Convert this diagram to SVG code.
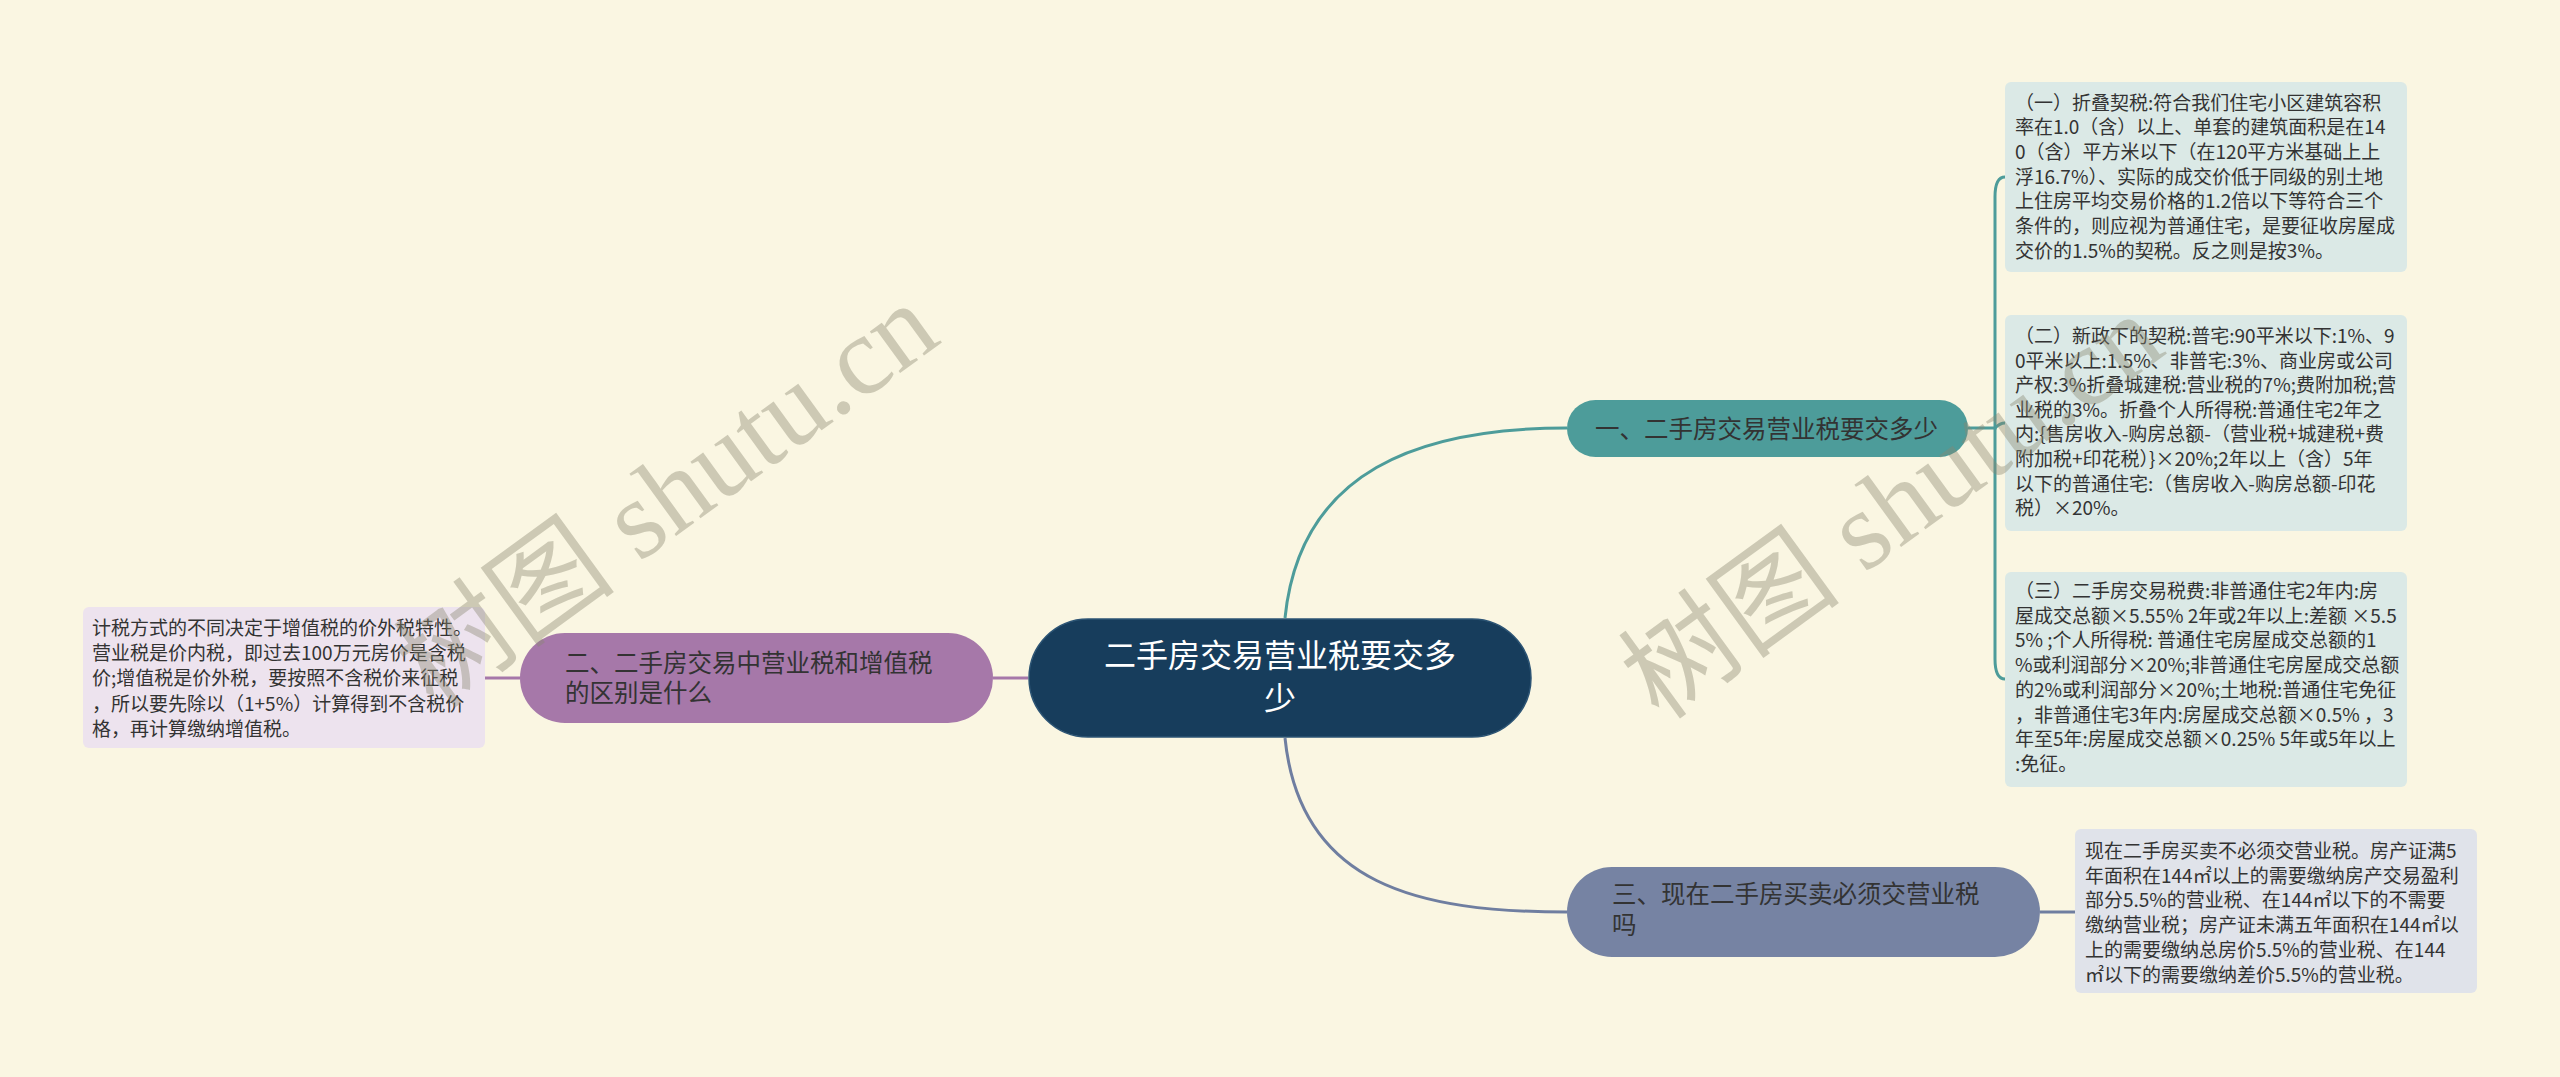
<svg xmlns="http://www.w3.org/2000/svg" width="2560" height="1077" viewBox="0 0 2560 1077">
<style>
.t{font-family:"Noto Sans CJK SC","Noto Sans",sans-serif;fill:#333333}
.leaf{font-size:19px}
.br{font-size:24.5px}
.root{font-size:32px;fill:#ffffff}
.wm{font-family:"Liberation Serif","Noto Sans CJK SC",serif;font-size:112px;fill:#8a8670;fill-opacity:0.4}
.c{fill:none;stroke-width:3}
</style>
<rect width="2560" height="1077" fill="#faf6e2"/>
<g id="connectors">
<path class="c" stroke="#4d9c9a" d="M1285,618 C1300,470 1420,428 1567,428"/>
<path class="c" stroke="#6f7ea0" d="M1285,738 C1300,886 1420,912 1567,912"/>
<path class="c" stroke="#a678a9" d="M993,678 H1028"/>
<path class="c" stroke="#a678a9" d="M485,678 H520"/>
<path class="c" stroke="#4d9c9a" d="M1968,428 H1995 V197 Q1995,177 2005,177"/>
<path class="c" stroke="#4d9c9a" d="M1995,428 V659 Q1995,679 2005,679"/>
<path class="c" stroke="#4d9c9a" d="M1995,428 Q2000,423 2005,423"/>
<path class="c" stroke="#6f7ea0" d="M2040,912 H2075"/>
</g>
<g id="root">
<rect x="1029" y="619" width="502" height="118" rx="59" fill="#173d5c" stroke="#2c5474" stroke-width="1.5"/>
<text class="t root" text-anchor="middle" x="1280"><tspan x="1280" y="667">二手房交易营业税要交多</tspan><tspan x="1280" y="710">少</tspan></text>
</g>
<g id="branch1">
<rect x="1567" y="400" width="401" height="57" rx="28.5" fill="#4d9c9a"/>
<text class="t br" x="1595" y="438">一、二手房交易营业税要交多少</text>
</g>
<g id="branch2">
<rect x="520" y="633" width="473" height="90" rx="45" fill="#a678a9"/>
<text class="t br"><tspan x="565" y="672">二、二手房交易中营业税和增值税</tspan><tspan x="565" y="702">的区别是什么</tspan></text>
</g>
<g id="branch3">
<rect x="1567" y="867" width="473" height="90" rx="45" fill="#7683a3"/>
<text class="t br"><tspan x="1612" y="903">三、现在二手房买卖必须交营业税</tspan><tspan x="1612" y="934">吗</tspan></text>
</g>
<g id="leaf1">
<rect x="2005" y="82" width="402" height="190" rx="6" fill="#dbe9e6"/>
<text class="t leaf"><tspan x="2015" y="109.5">（一）折叠契税:符合我们住宅小区建筑容积</tspan><tspan x="2015" y="134.2">率在1.0（含）以上、单套的建筑面积是在14</tspan><tspan x="2015" y="158.9">0（含）平方米以下（在120平方米基础上上</tspan><tspan x="2015" y="183.6">浮16.7%）、实际的成交价低于同级的别土地</tspan><tspan x="2015" y="208.3">上住房平均交易价格的1.2倍以下等符合三个</tspan><tspan x="2015" y="233">条件的，则应视为普通住宅，是要征收房屋成</tspan><tspan x="2015" y="257.7">交价的1.5%的契税。反之则是按3%。</tspan></text>
</g>
<g id="leaf2">
<rect x="2005" y="315" width="402" height="216" rx="6" fill="#dbe9e6"/>
<text class="t leaf"><tspan x="2015" y="343">（二）新政下的契税:普宅:90平米以下:1%、9</tspan><tspan x="2015" y="367.6">0平米以上:1.5%、非普宅:3%、商业房或公司</tspan><tspan x="2015" y="392.2">产权:3%折叠城建税:营业税的7%;费附加税;营</tspan><tspan x="2015" y="416.8">业税的3%。折叠个人所得税:普通住宅2年之</tspan><tspan x="2015" y="441.4">内:{售房收入-购房总额-（营业税+城建税+费</tspan><tspan x="2015" y="466">附加税+印花税）}×20%;2年以上（含）5年</tspan><tspan x="2015" y="490.6">以下的普通住宅:（售房收入-购房总额-印花</tspan><tspan x="2015" y="515.2">税）×20%。</tspan></text>
</g>
<g id="leaf3">
<rect x="2005" y="572" width="402" height="215" rx="6" fill="#dbe9e6"/>
<text class="t leaf"><tspan x="2015" y="598">（三）二手房交易税费:非普通住宅2年内:房</tspan><tspan x="2015" y="622.7">屋成交总额×5.55% 2年或2年以上:差额 ×5.5</tspan><tspan x="2015" y="647.4">5% ;个人所得税: 普通住宅房屋成交总额的1</tspan><tspan x="2015" y="672.1">%或利润部分×20%;非普通住宅房屋成交总额</tspan><tspan x="2015" y="696.8">的2%或利润部分×20%;土地税:普通住宅免征</tspan><tspan x="2015" y="721.5">，非普通住宅3年内:房屋成交总额×0.5% ，3</tspan><tspan x="2015" y="746.2">年至5年:房屋成交总额×0.25% 5年或5年以上</tspan><tspan x="2015" y="770.9">:免征。</tspan></text>
</g>
<g id="leaf4">
<rect x="2075" y="829" width="402" height="164" rx="6" fill="#e0e3ea"/>
<text class="t leaf"><tspan x="2085" y="858">现在二手房买卖不必须交营业税。房产证满5</tspan><tspan x="2085" y="882.7">年面积在144㎡以上的需要缴纳房产交易盈利</tspan><tspan x="2085" y="907.4">部分5.5%的营业税、在144㎡以下的不需要</tspan><tspan x="2085" y="932.1">缴纳营业税；房产证未满五年面积在144㎡以</tspan><tspan x="2085" y="956.8">上的需要缴纳总房价5.5%的营业税、在144</tspan><tspan x="2085" y="981.5">㎡以下的需要缴纳差价5.5%的营业税。</tspan></text>
</g>
<g id="leaf5">
<rect x="83" y="607" width="402" height="141" rx="6" fill="#ede3ee"/>
<text class="t leaf"><tspan x="92" y="635">计税方式的不同决定于增值税的价外税特性。</tspan><tspan x="92" y="660.2">营业税是价内税，即过去100万元房价是含税</tspan><tspan x="92" y="685.4">价;增值税是价外税，要按照不含税价来征税</tspan><tspan x="92" y="710.6">，所以要先除以（1+5%）计算得到不含税价</tspan><tspan x="92" y="735.8">格，再计算缴纳增值税。</tspan></text>
</g>
<g id="watermark">
<text class="wm" transform="translate(435,711) rotate(-36)">树图 shutu.cn</text>
<text class="wm" transform="translate(1660,722) rotate(-36)">树图 shutu.cn</text>
</g>
</svg>
